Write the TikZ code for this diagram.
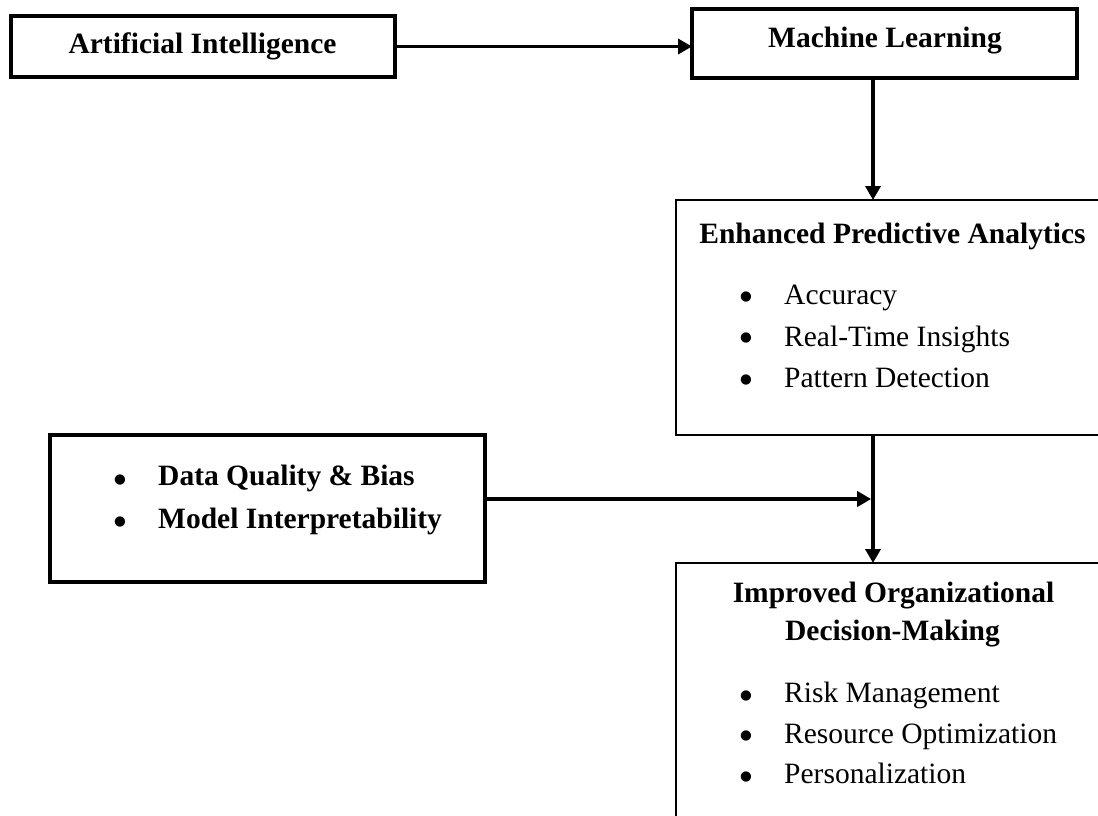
\documentclass[tikz,border=0pt]{standalone}
\usepackage{fontspec}
\setmainfont{Liberation Serif}
\newfontfamily\symfont{DejaVu Sans}
\usetikzlibrary{arrows.meta}
\begin{document}
\begin{tikzpicture}[x=1pt,y=-1pt,
  thickbox/.style={draw=black, line width=3.2pt, inner sep=0pt, outer sep=0pt},
  thinbox/.style={draw=black, line width=2.6pt, inner sep=0pt, outer sep=0pt},
  arr/.style={line width=3.6pt, -{Triangle[length=14pt,width=15pt]}},
  ttl/.style={anchor=base, inner sep=0pt, font=\fontsize{29.5}{35}\selectfont\bfseries},
  itm/.style={anchor=base west, inner sep=0pt, font=\fontsize{29.5}{35}\selectfont},
  bitm/.style={anchor=base west, inner sep=0pt, font=\fontsize{29.5}{35}\selectfont\bfseries},
  bul/.style={anchor=center, inner sep=0pt, font=\symfont\fontsize{13.5}{13.5}\selectfont}]
\useasboundingbox (0,0) rectangle (1098,815);
\clip (0,0) rectangle (1098,815);
% boxes
\node[thickbox, minimum width=384pt, minimum height=61pt] (ai) at (203,46.5) {};
\node[thickbox, minimum width=385pt, minimum height=69pt] (ml) at (884.5,43.5) {};
\node[thinbox, minimum width=434pt, minimum height=235pt] (epa) at (893,317.5) {};
\node[thickbox, minimum width=435pt, minimum height=147pt] (dq) at (267.5,508.5) {};
\node[thinbox, minimum width=434pt, minimum height=277pt] (iod) at (893,701.5) {};
\coordinate (j) at (873,499);
% texts
\node[ttl] (aitxt) at (202.5,53) {Artificial Intelligence};
\node[ttl] (mltxt) at (885,47) {Machine Learning};
\node[ttl] (epatxt) at (892.5,243) {Enhanced Predictive Analytics};
\node[bul] (eb1) at (746,297) {●};
\node[bul] (eb2) at (746,338) {●};
\node[bul] (eb3) at (746,380) {●};
\node[itm] (e1) at (784,304) {Accuracy};
\node[itm] (e2) at (784,346) {Real-Time Insights};
\node[itm] (e3) at (784,387) {Pattern Detection};
\node[bul] (db1) at (120,480) {●};
\node[bul] (db2) at (120,522) {●};
\node[bitm] (d1) at (158,485) {Data Quality \& Bias};
\node[bitm] (d2) at (158,528) {Model Interpretability};
\node[ttl] (iodt1) at (893.5,602) {Improved Organizational};
\node[ttl] (iodt2) at (892.5,640) {Decision-Making};
\node[bul] (ib1) at (746,696) {●};
\node[bul] (ib2) at (746,736) {●};
\node[bul] (ib3) at (746,777) {●};
\node[itm] (i1) at (784,702) {Risk Management};
\node[itm] (i2) at (784,743) {Resource Optimization};
\node[itm] (i3) at (784,783) {Personalization};
% connectors
\draw[arr] (ai.east) -- (ai.east -| ml.west);
\draw[arr] (ml.south -| j) -- (epa.north -| j);
\draw[arr] (epa.south -| j) -- (iod.north -| j);
\draw[arr, shorten >=1.8pt] (dq.east |- j) -- (j);
\end{tikzpicture}
\end{document}
